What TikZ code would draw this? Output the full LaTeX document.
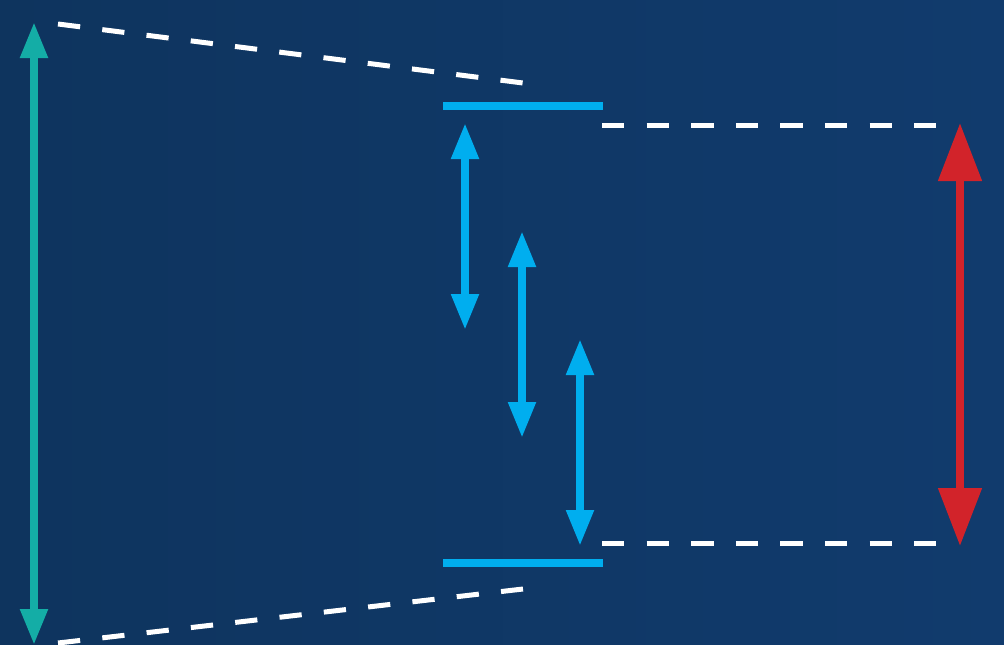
\documentclass[tikz,border=0pt]{standalone}
\usetikzlibrary{arrows.meta}
\definecolor{bgleft}{RGB}{14,52,94}
\definecolor{bgright}{RGB}{17,59,109}
\definecolor{tealc}{RGB}{20,173,166}
\definecolor{bluec}{RGB}{0,174,239}
\definecolor{redc}{RGB}{210,35,42}
\tikzset{
  dashline/.style={white, line width=5pt, dash pattern=on 22.3pt off 22.3pt},
  bar/.style={bluec, line width=8pt},
  tealarrow/.style={tealc, line width=8pt, {Triangle[length=36pt,width=26pt]}-{Triangle[length=36pt,width=26pt]}},
  bluearrow/.style={bluec, line width=8pt, {Triangle[length=36pt,width=26pt]}-{Triangle[length=36pt,width=26pt]}},
  redarrow/.style={redc, line width=8pt, {Triangle[length=58pt,width=42pt]}-{Triangle[length=58pt,width=42pt]}}
}
\begin{document}
\begin{tikzpicture}[x=1pt,y=-1pt]
\useasboundingbox (0,0) rectangle (1004,645);
\shade[left color=bgleft, right color=bgright] (0,0) rectangle (1004,645);
% coordinates
\coordinate (tlA) at (58,24);
\coordinate (tlB) at (523,83);
\coordinate (blA) at (58,643);
\coordinate (blB) at (523,589);
\coordinate (topL) at (443,105.5);
\coordinate (topR) at (603,105.5);
\coordinate (botL) at (443,563);
\coordinate (botR) at (603,563);
\coordinate (rdtA) at (602,125);
\coordinate (rdtB) at (936,125);
\coordinate (rdbA) at (602,543.5);
\coordinate (rdbB) at (936,543.5);
\coordinate (tealT) at (34,22);
\coordinate (tealB) at (34,645);
\coordinate (b1T) at (465,123);
\coordinate (b1B) at (465,330);
\coordinate (b2T) at (522,231);
\coordinate (b2B) at (522,438);
\coordinate (b3T) at (580,339);
\coordinate (b3B) at (580,546);
\coordinate (redT) at (960,123);
\coordinate (redB) at (960,546);
% dashed lines
\draw[dashline] (tlA) -- (tlB);
\draw[dashline] (blA) -- (blB);
\draw[dashline] (rdtA) -- (rdtB);
\draw[dashline] (rdbA) -- (rdbB);
% bars
\draw[bar] (topL) -- (topR);
\draw[bar] (botL) -- (botR);
% arrows
\draw[tealarrow] (tealT) -- (tealB);
\draw[bluearrow] (b1T) -- (b1B);
\draw[bluearrow] (b2T) -- (b2B);
\draw[bluearrow] (b3T) -- (b3B);
\draw[redarrow] (redT) -- (redB);
\end{tikzpicture}
\end{document}
